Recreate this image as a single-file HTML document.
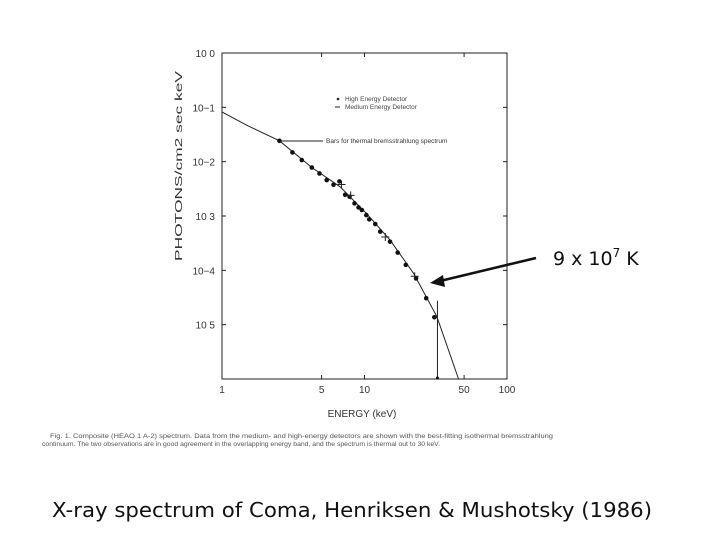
<!DOCTYPE html>
<html><head><meta charset="utf-8"><style>
html,body{margin:0;padding:0;background:#fff;}
body{width:720px;height:540px;overflow:hidden;position:relative;font-family:"Liberation Sans",sans-serif;}
svg{position:absolute;left:0;top:0;}
</style></head><body>
<svg id="chart" width="720" height="540" viewBox="0 0 720 540">
<g id="frame"></g>
<g id="ticks"></g>
<g id="marks"></g>
<text x="362" y="417" font-size="10" text-anchor="middle" fill="#333">ENERGY (keV)</text>
<text transform="translate(182,166) rotate(-90)" font-size="10.5" text-anchor="middle" fill="#333" textLength="190" lengthAdjust="spacingAndGlyphs">PHOTONS/cm2 sec keV</text>
<g font-size="6.5" fill="#444">
<circle cx="338" cy="99" r="1.3" fill="#222"/>
<text x="345" y="101">High Energy Detector</text>
<line x1="335" y1="107" x2="340" y2="107" stroke="#222"/>
<text x="345" y="109">Medium Energy Detector</text>
</g>
<line x1="280" y1="141" x2="323" y2="141" stroke="#222" stroke-width="1"/>
<text x="326" y="143" font-size="6.5" fill="#333">Bars for thermal bremsstrahlung spectrum</text>
<text x="50" y="438" font-size="6.3" fill="#555" textLength="503" lengthAdjust="spacingAndGlyphs">Fig. 1. Composite (HEAO 1 A-2) spectrum. Data from the medium- and high-energy detectors are shown with the best-fitting isothermal bremsstrahlung</text>
<text x="42" y="446" font-size="6.3" fill="#555" textLength="398" lengthAdjust="spacingAndGlyphs">continuum. The two observations are in good agreement in the overlapping energy band, and the spectrum is thermal out to 30 keV.</text>
<line x1="536" y1="258" x2="440" y2="281" stroke="#111" stroke-width="2.5"/>
<polygon points="430,283 443,275 445,287" fill="#111"/>
<text x="553" y="265" font-size="19" fill="#111" font-family="DejaVu Sans, sans-serif">9 x 10<tspan font-size="12" dy="-8">7</tspan><tspan dy="8"> K</tspan></text>
<text x="52" y="517" font-size="20" fill="#111" font-family="DejaVu Sans, sans-serif" textLength="600" lengthAdjust="spacingAndGlyphs">X-ray spectrum of Coma, Henriksen &amp; Mushotsky (1986)</text>
</svg>
<script>
const xTicks=[1,5,10,50,100];
const xTickLabels=["1","5","10","50","100"];
const yTicks=[0,-1,-2,-3,-4,-5];
const yTickLabels=["10 0","10\u22121","10\u22122","10 3","10\u22124","10 5"];
const hedE=[2.53,3.12,3.63,4.27,4.83,5.43,6.06,6.67,7.31,7.85,8.51,9.08,9.58,10.3,10.8,11.9,12.9,15.1,17.1,19.5,23.0,27.1,30.9];
const hedF=[0.0242,0.0148,0.0107,0.0078,0.00607,0.00458,0.00376,0.00433,0.00246,0.00226,0.00171,0.00144,0.00129,0.00104,0.000867,0.000712,0.000517,0.000337,0.000212,0.000126,0.000071,0.0000307,0.0000137];
const medE=[6.9,8.0,14.0,22.5];
const medF=[0.0038,0.0024,0.00041,0.000078];
const modelE=[1,1.49,2.53,4.27,6.74,10.3,15.1,22.1,32.2,45.7];
const modelF=[0.0824,0.0469,0.0242,0.0078,0.00345,0.00112,0.000362,0.000088,0.0000141,0.000001];
const limitE=[32.5];
const limitTop=[0.0000275];

const L=222,R=507,T=53,B=379;
const X=e=>L+(Math.log10(e))/2*(R-L);
const Y=f=>T+(-Math.log10(f))/6*(B-T);
const NS="http://www.w3.org/2000/svg";
function mk(tag,parent,attrs){const el=document.createElementNS(NS,tag);for(const k in attrs)el.setAttribute(k,attrs[k]);parent.appendChild(el);return el;}
const frame=document.getElementById('frame'),ticks=document.getElementById('ticks'),marks=document.getElementById('marks');
let r=mk('rect',frame,{x:L,y:T,width:R-L,height:B-T,fill:'none',stroke:'#222','stroke-width':1});


xTicks.forEach((v,i)=>{
  const x=X(v);
  let t=mk('line',ticks,{x1:x,y1:T,x2:x,y2:T+4,stroke:'#222'});
  
  
  let t2=mk('line',ticks,{x1:x,y1:B,x2:x,y2:B-4,stroke:'#222'});
  
  
  let l=mk('text',ticks,{x:x,y:B+14,'font-size':10,'text-anchor':'middle',fill:'#333'});
  l.textContent=xTickLabels[i];
  
  
});
yTicks.forEach((v,i)=>{
  const y=Y(Math.pow(10,v));
  let t=mk('line',ticks,{x1:L,y1:y,x2:L+4,y2:y,stroke:'#222'});
  
  
  let t2=mk('line',ticks,{x1:R,y1:y,x2:R-4,y2:y,stroke:'#222'});
  
  
  let l=mk('text',ticks,{x:L-7,y:y+4,'font-size':10,'text-anchor':'end',fill:'#333'});
  l.textContent=yTickLabels[i];
  
  
});
let p=mk('polyline',marks,{points:modelE.map((e,i)=>X(e)+','+Y(modelF[i])).join(' '),fill:'none',stroke:'#222','stroke-width':1});


hedE.forEach((e,i)=>{
  let c=mk('circle',marks,{cx:X(e),cy:Y(hedF[i]),r:2.3,fill:'#111'});
  
  
});
medE.forEach((e,i)=>{
  const x=X(e),y=Y(medF[i]);
  let m=mk('path',marks,{d:`M${x-4},${y}H${x+4}M${x},${y-4}V${y+4}`,stroke:'#222','stroke-width':1});
  
  
});
limitE.forEach((e,i)=>{
  const x=X(e);
  let u=mk('line',marks,{x1:x,y1:Y(limitTop[i]),x2:x,y2:B,stroke:'#222','stroke-width':1});
  
  
  let d=mk('circle',marks,{cx:x,cy:B-1,r:1.5,fill:'#111'});
  
  
});
</script>
</body></html>
